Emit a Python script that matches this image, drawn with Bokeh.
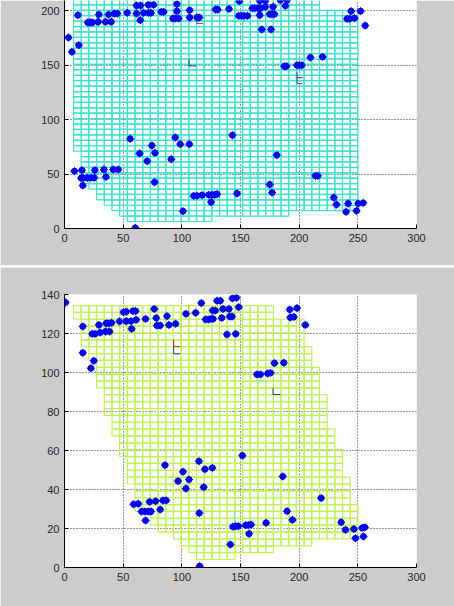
from bokeh.plotting import figure
from bokeh.models import Range1d, FixedTicker
from bokeh.layouts import column
from bokeh.embed import file_html
from bokeh.resources import INLINE

# ---------------- data ----------------
x_ticks = [0, 50, 100, 150, 200, 250, 300]
top_y_ticks = [0, 50, 100, 150, 200]
bot_y_ticks = [0, 20, 40, 60, 80, 100, 120, 140]

# cell grid (top panel): column origin/width, row origin/height, per-row column span
top_col0, top_dx = 7.7, 6.55
top_row0, top_dy = 6.4, 4.97
top_row_start = [7, 6, 5, 4, 3, 3, 2, 1, 1, 1, 1, 1, 1] + [0] * 28
top_row_end = [18, 28] + [37] * 37 + [32, 32]

# cell grid (bottom panel)
bot_col0, bot_dx = 7.7, 6.55
bot_row0, bot_dy = 4.1, 3.52
bot_row_start = [16, 15, 14, 13, 11, 10, 10, 8, 8, 8, 8, 7, 7, 7, 7, 6, 6, 6, 5, 5, 5,
                 4, 4, 4, 4, 3, 3, 3, 3, 2, 2, 1, 1, 1, 1, 0, 0]
bot_row_end = [21, 26, 31, 37, 37, 37, 37, 37, 36, 36, 36, 36, 35, 35, 35, 35, 34, 34, 34,
               33, 33, 33, 33, 33, 32, 32, 32, 32, 31, 31, 31, 30, 30, 30, 30, 26, 26]

top_dots = [(3.4, 175.2), (6.3, 162.1), (11.4, 195.7), (12.2, 168.2), (19.9, 189), (21.9, 189),
            (23.9, 189), (29.3, 196.3), (28.7, 189.6), (35.0, 189.6), (37.5, 196.3), (39.8, 189.6),
            (42.4, 197.2), (45.0, 197.2), (53.5, 197.9), (61.4, 204.6), (64.8, 204.6), (61.4, 197.2),
            (64.6, 191.1), (67.4, 197.9), (71.7, 197.9), (73.7, 197.9), (71.4, 205.2), (75.9, 205.2),
            (82.5, 198.8), (84.5, 198.8), (92.4, 192.7), (94.4, 192.7), (97.3, 192.7), (95.8, 205.8),
            (95.8, 199.4), (106.7, 200.3), (106.7, 193.6), (112.9, 193.6), (114.9, 193.6),
            (128.8, 200.9), (130.5, 200.9), (140.2, 201.5), (149.0, 208.6), (148.5, 195.1),
            (150.7, 195.1), (153.0, 195.1), (155.9, 195.1), (160.1, 202.1), (162.1, 202.1),
            (165.0, 202.1), (167.2, 202.1), (171.2, 203.4), (166.4, 208.9), (171.2, 208.9),
            (166.4, 195.7), (168.1, 182.6), (176.1, 182.6), (174.9, 196.6), (176.9, 196.6),
            (178.9, 196.6), (177.8, 203.4), (184.0, 209.5), (189.7, 209.5), (188.3, 204.3),
            (187.4, 148.9), (189.1, 148.9), (198.2, 149.8), (200.2, 149.8), (202.2, 149.8),
            (209.6, 156.9), (219.9, 157.5), (240.9, 192.4), (242.9, 192.4), (244.3, 199.4),
            (247.2, 193.0), (252.3, 199.4), (256.3, 186.2),
            (56.0, 82.3), (64.0, 68.8), (70.5, 61.8), (74.5, 76.1), (77.1, 69.4), (76.8, 42.5),
            (94.4, 83.5), (91.0, 63.6), (98.7, 77.4), (106.4, 77.4), (101.0, 15.9), (143.1, 85.6),
            (180.9, 67.3), (8.5, 52.6), (14.8, 53.5), (14.2, 46.3), (16.2, 46.3), (15.6, 39.4),
            (19.6, 46.5), (22.5, 46.5), (25.3, 46.5), (25.9, 53.5), (33.6, 54.1), (35.3, 47.4),
            (41.5, 54.1), (45.8, 54.1), (110.1, 30.0), (112.9, 30.0), (117.2, 30.6), (122.9, 30.9),
            (125.7, 30.9), (128.0, 30.9), (130.0, 31.5), (124.9, 24.2), (147.0, 32.1), (174.9, 40.4),
            (176.9, 33.0), (213.9, 48.3), (215.9, 48.3), (229.5, 28.4), (231.8, 22.0), (240.0, 15.3),
            (241.8, 22.9), (248.9, 16.2), (250.3, 22.9), (254.6, 23.5), (60.3, 0.6)]

bot_dots = [(0.9, 135.9), (15.6, 123.6), (15.6, 110.1), (22.5, 102.2), (25.0, 106.0), (23.6, 119.8),
            (25.9, 119.8), (29.3, 124.4), (30.4, 120.5), (35.0, 121.0), (38.4, 121.0), (35.6, 125.2),
            (37.8, 125.2), (40.1, 125.5), (46.9, 126.2), (50.3, 130.9), (52.6, 131.2), (52.6, 126.3),
            (56.6, 126.3), (57.2, 122.4), (58.3, 131.5), (60.6, 131.5), (61.1, 127.0), (69.1, 127.5),
            (76.5, 132.6), (78.2, 128.0), (78.8, 124.1), (81.6, 124.1), (87.3, 128.9), (89.0, 124.4),
            (94.7, 125.0), (103.5, 130.1), (111.8, 130.6), (116.6, 135.6), (120.3, 127.2),
            (122.6, 127.2), (124.9, 127.5), (126.6, 127.5), (126.3, 131.8), (128.6, 131.8),
            (130.0, 136.8), (132.8, 136.8), (134.0, 128.0), (135.1, 132.6), (140.2, 132.6),
            (140.8, 128.7), (142.8, 128.7), (138.5, 119.5), (145.9, 119.8), (143.1, 138.0),
            (146.5, 138.3), (148.5, 133.5), (192.0, 132.3), (192.5, 128.2), (195.4, 128.5),
            (198.2, 133.0), (205.3, 124.4), (164.1, 99.0), (167.0, 99.0), (173.2, 99.5),
            (175.5, 99.8), (178.9, 104.8), (186.9, 105.0), (85.6, 52.5), (101.0, 49.1), (96.7, 44.3),
            (106.1, 45.1), (103.5, 40.5), (114.6, 54.5), (119.7, 50.4), (126.0, 51.1), (118.6, 41.2),
            (151.6, 57.4), (186.0, 46.7), (58.9, 32.4), (62.9, 32.7), (65.7, 28.7), (68.5, 28.7),
            (71.4, 28.7), (73.7, 28.7), (69.1, 24.1), (72.5, 33.7), (77.6, 34.0), (81.6, 29.7),
            (83.9, 34.4), (86.7, 34.4), (114.9, 27.9), (143.6, 20.9), (145.9, 21.2), (148.2, 21.2),
            (154.4, 21.7), (156.7, 21.7), (159.0, 22.0), (157.3, 17.3), (171.8, 22.9), (141.4, 11.8),
            (115.2, 0.7), (189.7, 28.9), (194.3, 24.4), (218.7, 35.6), (235.8, 23.2), (239.5, 19.3),
            (246.6, 19.7), (248.0, 15.0), (253.7, 20.3), (256.0, 20.6), (254.8, 15.9)]

# small coloured frame marks: (x0, y0, x1, y1, colour)
top_marks = [(106.1, 155.0, 106.1, 149.2, "#3535a8"), (106.1, 149.2, 112.4, 149.2, "#3535a8"),
             (112.9, 194.2, 112.9, 188.1, "#8a4070"), (112.9, 188.1, 118.0, 188.1, "#b04050"),
             (198.2, 143.7, 198.2, 133.0, "#3535a8"), (198.2, 138.4, 203.0, 138.4, "#3535a8"),
             (198.2, 133.0, 203.0, 133.0, "#c03030"), (191.4, 116.0, 191.4, 105.5, "#90c8ff"),
             (191.4, 111.0, 197.7, 111.0, "#90c8ff"), (118.6, 178.9, 125.7, 178.9, "#f0f0a0")]
bot_marks = [(93.0, 116.8, 93.0, 113.3, "#b03030"), (93.0, 113.3, 98.7, 113.3, "#c03030"),
             (93.0, 113.3, 93.0, 109.6, "#3030b0"), (93.0, 109.6, 98.7, 109.6, "#3030b0"),
             (105.8, 134.4, 105.8, 130.1, "#f0a030"), (105.8, 130.1, 113.0, 130.1, "#f0a030"),
             (177.8, 92.1, 177.8, 88.7, "#3030c0"), (177.8, 88.7, 184.0, 88.7, "#3030c0"),
             (164.1, 95.9, 171.2, 95.9, "#66eecc"), (145.0, 29.2, 145.0, 20.7, "#66eecc")]

GRAY = "#cccccc"
FONT = "Liberation Sans"


def make_fig(height, ytop, border_top, border_bottom, yticks):
    p = figure(width=454, height=height, x_range=Range1d(0, 300), y_range=Range1d(0, ytop),
               output_backend="svg", toolbar_location=None,
               min_border_left=64, min_border_right=38,
               min_border_top=border_top, min_border_bottom=border_bottom,
               background_fill_color="white", border_fill_color=GRAY, outline_line_color=None)
    p.xaxis.ticker = FixedTicker(ticks=x_ticks)
    p.yaxis.ticker = FixedTicker(ticks=yticks)
    for ax in (p.xaxis[0], p.yaxis[0]):
        ax.major_tick_in = 4
        ax.major_tick_out = 0
        ax.minor_tick_line_color = None
        ax.axis_line_color = "black"
        ax.major_tick_line_color = "black"
        ax.major_label_text_font = FONT
        ax.major_label_text_font_size = "11px"
        ax.major_label_text_color = "#262626"
        ax.major_label_standoff = 5
    p.grid.grid_line_color = "#303030"
    p.grid.grid_line_dash = "1 2"
    p.grid.grid_line_width = 1
    return p


def add_cells(p, col0, dx, row0, dy, starts, ends, color):
    left, right, bottom, top = [], [], [], []
    for i, (s, e) in enumerate(zip(starts, ends)):
        for c in range(s, e):
            left.append(col0 + c * dx)
            right.append(col0 + (c + 1) * dx)
            bottom.append(row0 + i * dy)
            top.append(row0 + (i + 1) * dy)
    p.quad(left=left, right=right, bottom=bottom, top=top, fill_color=None,
           line_color=color, line_width=1.2)


def add_marks(p, marks):
    p.segment(x0=[m[0] for m in marks], y0=[m[1] for m in marks],
              x1=[m[2] for m in marks], y1=[m[3] for m in marks],
              line_color=[m[4] for m in marks], line_width=1)


def add_dots(p, dots):
    xs = [d[0] for d in dots]
    ys = [d[1] for d in dots]
    p.scatter(xs, ys, marker="circle", size=6, fill_color="#0000ff", line_color="#0000ff")
    p.scatter(xs, ys, marker="cross", size=8, line_color="#0000ff", line_width=1)


# top panel: its upper part is cut off by the window, as in the reference
p1 = make_fig(265, 209.2, 0, 37, top_y_ticks)
add_cells(p1, top_col0, top_dx, top_row0, top_dy, top_row_start, top_row_end, "#3ee2cf")
add_marks(p1, top_marks)
add_dots(p1, top_dots)

p2 = make_fig(339, 140, 27, 39, bot_y_ticks)
add_cells(p2, bot_col0, bot_dx, bot_row0, bot_dy, bot_row_start, bot_row_end, "#bff255")
add_marks(p2, bot_marks)
add_dots(p2, bot_dots)

layout = column(p1, p2, spacing=2)

open("out.html", "w").write(file_html(layout, INLINE))
